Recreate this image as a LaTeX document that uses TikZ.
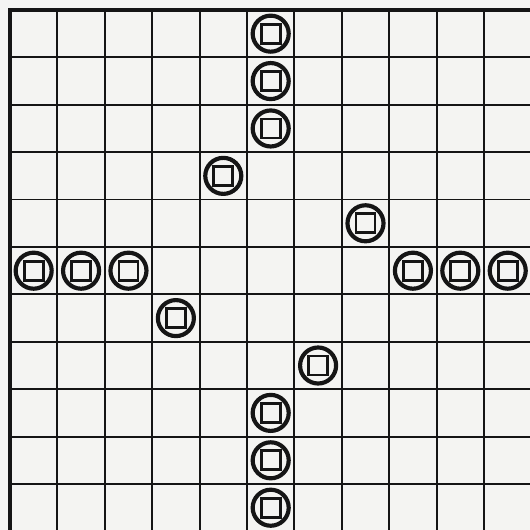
\documentclass[tikz,border=0pt]{standalone}
\usepackage{xcolor}
\usepackage{tikz}
\definecolor{paper}{HTML}{F4F4F2}
\definecolor{ink}{HTML}{151515}
\tikzset{
  boardline/.style={draw=ink, line width=1.1pt},
  boardedge/.style={draw=ink, line width=2.3pt},
  piece/.style={
    circle,
    draw=ink,
    line width=2.5pt,
    fill=paper,
    minimum size=0.76cm,
    inner sep=0pt,
    path picture={
      \draw[ink, line width=1.7pt]
        ([shift={(-0.2,-0.2)}]path picture bounding box.center) rectangle ++(0.4,0.4);
    }
  }
}

\begin{document}
\begin{tikzpicture}[x=1cm,y=-1cm]
\useasboundingbox (-0.21,-0.21) rectangle (10.97,10.97);
\fill[paper] (-0.21,-0.21) rectangle (10.97,10.97);
\clip (-0.21,-0.21) rectangle (10.97,10.97);

% board
\foreach \k in {1,...,10} {
  \draw[boardline] (\k,0) -- (\k,11);
  \draw[boardline] (0,\k) -- (11,\k);
}
\draw[boardedge] (0,11) -- (0,0) -- (11,0);

% pieces, column/row of each cell
\foreach \c/\r [count=\i] in {5/0,5/1,5/2,4/3,7/4,0/5,1/5,2/5,8/5,9/5,10/5,3/6,6/7,5/8,5/9,5/10}
  \node[piece] (p\i) at (\c+0.5,\r+0.5) {};
\end{tikzpicture}
\end{document}
